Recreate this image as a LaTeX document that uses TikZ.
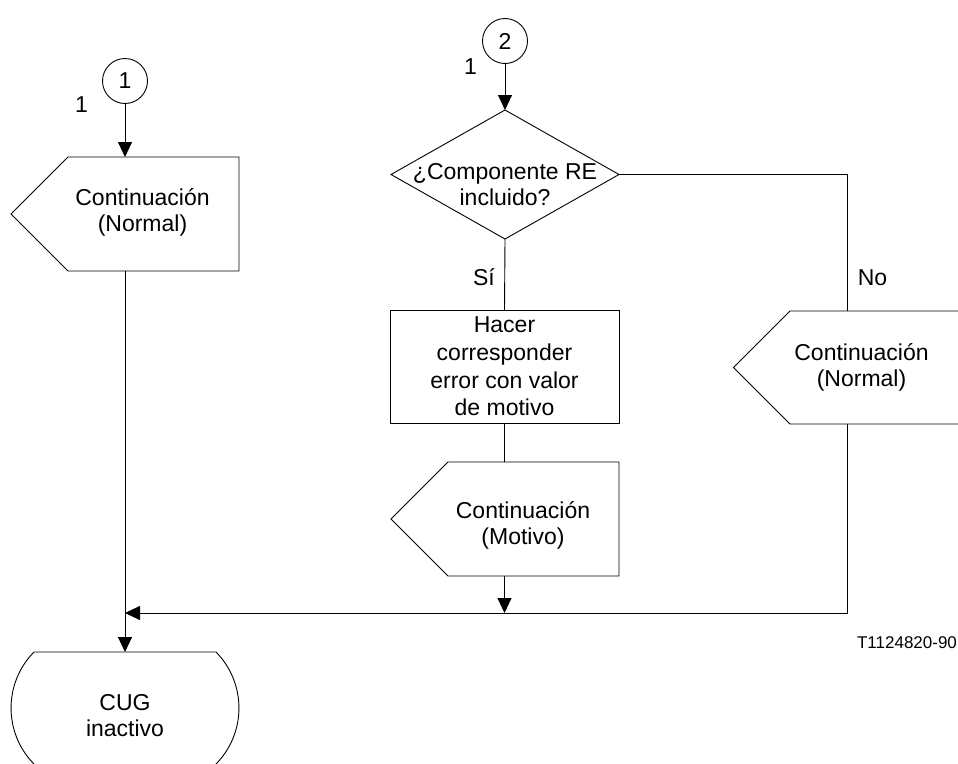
\documentclass[tikz,border=0pt]{standalone}
\usepackage{fontspec}
\setmainfont{Liberation Sans}
\usetikzlibrary{arrows.meta,calc}

\tikzset{
  line/.style={draw=black, line width=0.9pt},
  arr/.style={line, -{Triangle[length=15pt,width=14pt]}},
  body/.style={rectangle, draw=none, inner sep=0pt, outer sep=0pt},
  conn/.style={circle, line, minimum size=45pt, inner sep=0pt,
               font=\fontsize{23}{26}\selectfont},
  txt/.style={align=center, inner sep=0pt,
              font=\fontsize{23}{26}\selectfont},
  small/.style={inner sep=0pt, font=\fontsize{17}{20}\selectfont}
}

\begin{document}
\begin{tikzpicture}[x=1pt, y=-1pt]
  \fill[white] (0,0) rectangle (958,763);
  \useasboundingbox (0,0) rectangle (958,763);

  % connectors (entry points)
  \node[conn] (k1) at (125,81) {1};
  \node[txt] (n1) at (81.5,104.5) {1};
  \node[conn] (k2) at (505,41) {2};
  \node[txt] (n2) at (470.5,66.5) {1};

  % left branch: continuation signal
  \node[body, minimum width=171pt, minimum height=114pt] (p1) at (153.5,214) {};
  \draw[line] (p1.north east) -- (p1.north west) -- ($(p1.west)+(-57,0)$)
              -- (p1.south west) -- (p1.south east) -- cycle;
  \node[txt] (t1) at (142.5,212) {Continuación\\(Normal)};

  % decision
  \node[body, minimum width=228pt, minimum height=129pt] (d) at (505,174.5) {};
  \draw[line] (d.north) -- (d.east) -- (d.south) -- (d.west) -- cycle;
  \node[txt] (dt) at (505,185) {¿Componente RE\\incluido?};

  % task box
  \node[body, minimum width=229pt, minimum height=113pt] (b) at (504.5,366.5) {};
  \draw[line] (b.north west) rectangle (b.south east);
  \node[txt, font=\fontsize{23}{27.7}\selectfont] (bt) at (504.5,366.5)
       {Hacer\\corresponder\\error con valor\\de motivo};

  % continuation (Motivo)
  \node[body, minimum width=171pt, minimum height=114pt] (p2) at (533.5,519) {};
  \draw[line] (p2.north east) -- (p2.north west) -- ($(p2.west)+(-57,0)$)
              -- (p2.south west) -- (p2.south east) -- cycle;
  \node[txt] (t2) at (523,525) {Continuación\\(Motivo)};

  % continuation (Normal) on the "No" branch
  \node[body, minimum width=171pt, minimum height=113pt] (p3) at (875.5,367.5) {};
  \draw[line] (p3.north east) -- (p3.north west) -- ($(p3.west)+(-56.5,0)$)
              -- (p3.south west) -- (p3.south east) -- cycle;
  \node[txt] (t3) at (861.5,367) {Continuación\\(Normal)};

  % final state
  \node[body, minimum width=182pt, minimum height=112pt] (st) at (125,708) {};
  \draw[line] (st.north west) -- (st.north east)
     .. controls ($(st.north east)+(30.6,31)$) and ($(st.south east)+(30.6,-31)$) .. (st.south east);
  \draw[line] (st.north west)
     .. controls ($(st.north west)+(-30.6,31)$) and ($(st.south west)+(-30.6,-31)$) .. (st.south west);
  \node[txt] (stt) at (125,716) {CUG\\inactivo};

  % branch labels
  \node[txt] (lsi) at (484,277) {Sí};
  \node[txt] (lno) at (872.5,277.5) {No};

  % merge point on the left column
  \coordinate (m) at (125,613);

  % flow lines
  \draw[arr] (k1) -- (k1 |- p1.north);
  \draw[arr] (k1 |- p1.south) -- (st.north);
  \draw[arr] (k2) -- (d.north);
  \draw[line] (d.south) -- (b.north);
  \draw[line] (d.east) -| (p3.north -| 847,0);
  \draw[line] (b.south) -- (b.south |- p2.north);
  \draw[arr] (b.south |- p2.south) -- (b.south |- m);
  \draw[arr] (p3.south -| 847,0) |- (m);

  \node[small] (ref) at (907,643) {T1124820-90};
\end{tikzpicture}
\end{document}
